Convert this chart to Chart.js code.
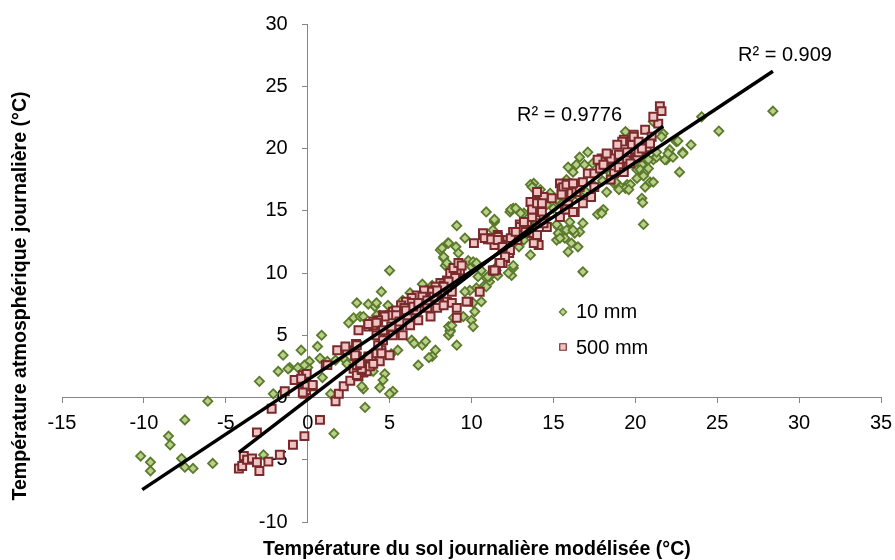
<!DOCTYPE html>
<html>
<head>
<meta charset="utf-8">
<script src="https://cdn.jsdelivr.net/npm/chart.js@4.4.0/dist/chart.umd.min.js"></script>
<style>
  body { margin: 0; background: #fff; }
  canvas { display: block; }
</style>
</head>
<body>
<canvas id="chart" width="895" height="560"></canvas>
<script>
// [x, y] pairs
const pts10mm = [
  [-10.2,-4.7],[-9.6,-5.2],[-9.6,-5.9],[-8.5,-3.1],[-8.4,-3.8],[-7.5,-1.8],[-7.7,-4.9],[-7.5,-5.6],[-7.0,-5.7],
  [-6.1,-0.3],[-5.8,-5.3],[-2.7,-4.6],[-2.95,1.3],[-1.8,2.1],[-2.1,0.3],[-1.1,2.4],[-0.6,2.4],[-1.5,3.4],
  [-0.4,3.8],[0.6,4.1],[0.85,5.0],[0.1,2.9],[-1.2,2.3],[0,2.4],[1.2,2.9],[1.7,3.0],[0.9,1.6],[1.4,0.3],
  [1.6,-2.9],[3.5,-0.8],[3.4,0.7],[4.4,0.8],[5.2,0.5],[4.7,1.9],[4.6,1.4],[2.3,3.0],[2.4,2.7],[5.1,3.5],
  [5.5,3.8],[4.0,2.1],[-0.2,2.6],[0.75,3.15],[3.3,0.9],[5.0,0.3],
  [3.0,7.6],[3.7,7.5],[4.1,7.3],[4.4,6.6],[2.8,6.4],[2.5,6.0],[3.2,6.5],[5.0,10.2],[4.5,8.5],[4.2,7.6],
  [4.9,7.4],[4.2,6.6],[3.4,6.5],[6.25,8.4],[7.0,9.1],[7.6,9.0],[5.8,7.8],[10.0,10.5],[10.6,10.2],[10.9,9.6],
  [10.8,9.0],[10.3,8.8],[9.9,8.6],[9.6,8.5],[10.1,7.6],[10.2,6.9],[10.0,6.2],[10.1,5.7],[8.7,5.4],[8.6,5.0],
  [9.1,4.2],[7.8,3.8],[7.6,3.3],[6.75,2.6],[7.0,4.2],[6.35,4.6],[5.4,5.4],[4.8,5.0],[12.45,9.8],[12.55,10.4],
  [11.5,10.2],[10.6,7.7],[10.4,9.7],[12.9,12.1],[13.2,12.65],[13.4,13.2],[11.1,9.3],[9.1,13.8],[9.6,12.8],
  [11.4,14.1],[8.55,12.4],[8.1,11.85],[9.05,12.1],[9.2,11.6],[8.3,11.2],[8.4,10.6],[9.8,11.0],[7.4,3.2],
  [7.2,4.5],[6.5,4.35],[8.7,5.3],[8.6,5.7],[8.8,5.8],[9.5,6.5],[8.9,6.4],[11.1,9.7],[11.6,10.6],[11.6,9.8],
  [10.1,10.9],
  [5.5,6.5],[6.0,6.8],[6.5,7.5],[7.0,7.8],[7.5,8.2],[8.0,8.6],[8.5,9.0],[9.0,9.3],[12.0,12.0],[12.5,12.8],
  [13.0,13.3],[13.5,13.8],[14.0,14.0],[14.5,14.5],[15.0,15.2],[15.5,15.5],[16.0,16.0],[16.5,16.2],[17.0,16.5],
  [17.5,17.0],[18.0,17.4],[18.5,18.0],[19.0,18.5],
  [16.6,19.3],[17.1,19.7],[15.9,18.5],[16.4,18.7],[16.9,18.7],[17.4,18.8],[17.85,19.1],[20.7,19.2],[21.1,19.1],
  [20.4,18.7],[20.1,18.3],[20.5,17.9],[20.9,17.3],[20.6,16.9],[21.1,17.3],[19.5,17.1],[19.1,16.9],[19.4,16.8],
  [18.7,17.2],[18.25,16.5],[20.4,16.0],[20.45,15.65],[20.5,13.9],[18.05,15.1],[17.7,14.7],[17.95,14.8],[16.8,14.0],
  [16.6,13.3],[16.3,13.2],[16.1,12.4],[16.5,12.1],[15.4,13.05],[15.2,12.65],[16.0,14.1],[16.8,10.1],[13.6,14.9],
  [13.2,14.8],[13.6,11.45],[12.55,15.2],[12.35,14.9],[10.9,14.9],[11.4,14.2],[11.3,13.45],[11.0,9.7],[10.9,8.9],
  [12.25,10.0],[12.55,10.6],[14.6,15.5],[13.8,17.2],[13.6,17.1],[14.1,16.5],[14.8,16.4],[15.2,15.9],[15.3,13.7],
  [15.8,13.45],[15.7,12.8],[15.3,13.2],[21.1,22.15],[21.7,21.2],[22.5,20.55],[22.9,19.7],[23.4,20.3],[21.3,19.3],
  [21.9,19.1],[22.7,18.1],[21.3,19.7],[20.8,19.1],[20.3,18.3],[20.1,17.6],[19.7,17.1],[19.0,16.7],[18.8,17.3],
  [28.4,23.0],[25.1,21.4],[24.05,22.55],[22.9,19.6],[22.6,20.6],[22.1,19.9],[22.3,19.3],[21.8,19.1],[22.0,19.6],
  [20.6,18.1],[20.5,17.8],[20.8,18.4],[19.6,16.7],[19.5,21.2],[19.4,21.35],[21.6,20.95],[8.2,12.0],[8.6,12.4],
  [8.3,11.3],[8.5,10.8],[10.3,10.8],[11.4,14.3],[12.4,15.1],[12.7,15.2],[13.0,14.8],[13.7,16.9],[14.2,16.7],
  [16.2,18.1],[15.8,17.5],[15.4,12.8],[16.2,13.45],[15.2,13.9],[15.9,11.7]
];

const pts500mm = [
  [-4.2,-5.7],[-4.0,-5.5],[-3.9,-4.7],[-3.7,-5.0],[-3.4,-4.9],[-3.1,-5.2],[-2.95,-5.9],[-2.4,-5.15],[-1.7,-4.6],
  [-3.1,-2.8],[-2.2,-0.9],[-0.9,-3.8],[-0.2,-3.1],[0.75,-1.8],[-1.4,0.5],[-0.2,0.3],[-0.2,0.7],[-0.1,0.6],
  [-0.8,1.4],[-0.3,1.8],[-0.1,1.8],[0.3,0.9],[1.1,2.6],[1.7,-0.3],[1.9,0.3],[2.2,0.9],[2.6,1.35],[2.8,2.3],
  [3.1,1.7],[3.4,2.0],[3.6,2.1],[3.0,1.8],[3.3,2.2],[3.1,2.75],[3.5,2.6],[3.8,2.75],[3.9,3.15],[4.2,3.55],
  [4.5,3.8],[2.9,3.3],[2.4,3.8],[1.8,3.8],[2.3,4.1],[1.2,2.6],[-0.06,1.9],[-0.4,1.5],[-0.06,0.9],[0.3,1.0],
  [-0.3,0.4],[4.5,3.55],[5.0,3.4],[4.4,2.9],[3.8,2.5],[3.3,2.3],[2.95,4.3],[3.0,3.3],[3.0,2.6],[3.7,3.3],
  [4.0,2.7],[4.3,4.2],[4.9,5.2],[5.6,5.8],[3.7,5.7],[4.0,5.8],[4.6,6.6],[5.2,6.9],[5.7,7.2],
  [10.15,12.4],[10.7,13.05],[11.0,12.7],[11.3,12.8],[11.6,13.05],[11.9,12.65],[12.55,13.25],[12.95,13.9],
  [13.3,14.0],[12.85,13.3],[11.7,12.4],[12.15,11.85],[12.3,11.6],[12.05,11.2],[11.5,10.25],[11.3,10.2],
  [11.9,10.8],[10.5,8.5],[9.8,7.7],[9.1,6.4],[9.3,10.2],[9.1,10.0],[8.8,9.85],[8.5,9.4],[8.1,9.2],[7.8,8.9],
  [7.5,8.6],[7.1,8.6],[6.65,8.2],[6.35,8.0],[6.0,7.7],[5.7,7.4],[5.4,7.0],[5.0,6.6],[4.7,6.5],[4.3,6.2],
  [4.0,6.1],[3.7,5.9],[3.1,5.4],[3.0,4.2],[2.9,3.4],[3.2,2.75],[8.7,10.0],[8.9,10.4],[9.2,10.8],[8.3,9.0],
  [7.6,8.5],[7.0,8.1],[6.35,7.6],[5.9,7.2],[5.4,6.6],[4.2,6.0],[4.2,5.0],[4.6,4.6],[5.2,5.0],[5.8,5.0],
  [7.5,6.5],[8.0,7.4],[8.5,7.7],[8.8,7.6],[9.7,7.7],[8.8,8.5],[7.9,7.8],[7.3,7.2],[6.65,7.0],[6.1,6.6],
  [5.6,6.1],[5.1,5.7],[4.6,5.4],[6.75,6.2],[6.25,5.8],[6.0,7.0],[6.45,7.3],[6.75,7.6],[7.3,7.8],[7.7,8.1],
  [8.1,8.5],[8.5,8.9],[9.0,9.6],[9.4,10.6],[8.6,9.3],[8.3,8.9],[7.9,8.6],[7.9,7.2],[8.3,7.4],[9.1,7.2],
  [11.7,10.8],
  [10.7,13.2],[11.6,12.9],[11.7,12.5],[11.4,12.25],[12.05,12.25],[12.55,13.3],[12.96,13.7],[13.4,14.1],
  [13.7,14.5],[13.8,15.1],[14.1,15.6],[14.3,14.9],[14.4,14.3],[14.6,13.7],[14.9,16.0],[15.4,17.2],[15.5,16.8],
  [15.9,17.2],[15.6,16.3],[16.1,16.4],[16.4,16.5],[15.9,15.5],[16.3,14.9],[16.6,16.9],[16.8,17.3],[17.1,18.0],
  [17.5,18.0],[17.85,18.4],[18.15,18.7],[17.95,19.2],[18.35,19.5],[18.75,19.1],[19.1,18.8],[19.5,19.2],
  [19.9,19.6],[20.1,19.3],[20.5,19.9],[18.7,18.0],[18.5,17.5],[17.5,16.9],[17.3,16.1],[16.8,15.6],[14.0,16.4],
  [14.4,16.1],[13.9,12.5],[14.1,12.25],[13.7,13.2],[13.3,13.3],[12.8,12.65],[12.35,11.85],[12.05,11.3],
  [11.75,10.8],[11.4,10.2],[21.4,22.0],[20.6,21.5],[21.0,20.95],[19.9,21.1],[19.3,20.7],[19.8,20.3],[20.2,19.7],
  [20.7,20.1],[20.9,20.4],[19.5,19.7],[19.0,19.5],[18.5,19.2],[18.25,19.6],[17.7,19.1],[18.05,18.7],[19.0,18.5],
  [19.3,18.1],[19.7,18.8],[21.5,23.4],[21.6,23.0],[21.1,22.55],[19.9,20.95],[20.2,20.55],[20.4,20.0],[19.2,20.55],
  [18.9,20.3],[10.8,12.8],[11.2,12.7],[11.6,12.65],[11.9,12.1],[12.4,12.8],[12.7,13.3],[13.2,14.1],[13.6,15.7],
  [13.7,15.1],[14.0,15.6],[14.3,15.6],[14.0,16.5],[15.6,16.9],[15.8,17.1],[16.2,17.2],[15.5,16.3],[15.7,15.1],
  [15.4,14.5],[15.8,15.1],[16.2,14.9],[14.4,14.0],[14.0,13.05],[13.8,12.4]
];

// trendline end points
const trend10mm = [[-10.1,-7.4],[28.4,26.2]];
const trend500mm = [[-4.2,-4.4],[21.7,21.8]];

const seriesNames = ['10 mm', '500 mm'];
const r2Labels = ['R² = 0.909', 'R² = 0.9776'];
const xTitle = 'Température du sol journalière modélisée (°C)';
const yTitle = 'Température atmosphérique journalière (°C)';

const toXY = arr => arr.map(p => ({x: p[0], y: p[1]}));

const FONT = '"Liberation Sans", Arial, sans-serif';
const green = {fill: '#B9CF8C', edge: '#5B7A2A'};
const red = {fill: '#EFC4C4', edge: '#7A2A2A'};

// tick labels: chart.js sets them flush on centred axes, so place them by hand off the zero lines
const tickLabelPlugin = {
  id: 'tickLabels',
  beforeDatasetsDraw(chart) {
    const ctx = chart.ctx;
    const xs = chart.scales.x, ys = chart.scales.y;
    const x0 = xs.getPixelForValue(0);
    const y0 = ys.getPixelForValue(0);
    ctx.save();
    ctx.fillStyle = '#000';
    ctx.font = '20px ' + FONT;
    ctx.textBaseline = 'middle';
    ctx.textAlign = 'right';
    ys.ticks.forEach(t => {
      ctx.fillText(String(t.value), x0 - 20, ys.getPixelForValue(t.value));
    });
    ctx.textAlign = 'center';
    xs.ticks.forEach(t => {
      ctx.fillText(String(t.value), xs.getPixelForValue(t.value), y0 + 26);
    });
    ctx.restore();
  }
};

const textPlugin = {
  id: 'textPlugin',
  afterDraw(chart) {
    const ctx = chart.ctx;
    const h = Chart.helpers;
    ctx.save();
    ctx.fillStyle = '#000';
    ctx.textBaseline = 'middle';

    // axis titles
    ctx.font = 'bold 19.6px ' + FONT;
    ctx.textAlign = 'center';
    ctx.fillText(xTitle, 477, 550);
    ctx.save();
    ctx.translate(21, 296);
    ctx.rotate(-Math.PI / 2);
    ctx.fillText(yTitle, 0, 0);
    ctx.restore();

    // R² labels
    ctx.font = '20px ' + FONT;
    ctx.textAlign = 'left';
    ctx.fillText(r2Labels[0], 738, 55);
    ctx.fillText(r2Labels[1], 517, 115);

    // legend
    ctx.fillText(seriesNames[0], 576, 312);
    ctx.fillText(seriesNames[1], 576, 348);
    ctx.lineWidth = 1.2;
    ctx.fillStyle = green.fill; ctx.strokeStyle = green.edge;
    h.drawPoint(ctx, {pointStyle: 'rectRot', radius: 3.6, rotation: 0, borderWidth: 1.2}, 563, 312);
    ctx.fillStyle = red.fill; ctx.strokeStyle = red.edge;
    h.drawPoint(ctx, {pointStyle: 'rect', radius: 4.6, rotation: 0, borderWidth: 1.2}, 563, 347);
    ctx.restore();
  }
};

new Chart(document.getElementById('chart'), {
  type: 'scatter',
  data: {
    datasets: [
      {
        label: 'trend 10 mm', type: 'line', data: toXY(trend10mm),
        borderColor: '#000', borderWidth: 3.5, pointRadius: 0, fill: false, order: 0
      },
      {
        label: 'trend 500 mm', type: 'line', data: toXY(trend500mm),
        borderColor: '#000', borderWidth: 3.5, pointRadius: 0, fill: false, order: 0
      },
      {
        label: seriesNames[1], data: toXY(pts500mm),
        pointStyle: 'rect', pointRadius: 5.6, borderWidth: 2,
        backgroundColor: red.fill, borderColor: red.edge, order: 1
      },
      {
        label: seriesNames[0], data: toXY(pts10mm),
        pointStyle: 'rectRot', pointRadius: 4.6, borderWidth: 1.8,
        backgroundColor: green.fill, borderColor: green.edge, order: 2
      }
    ]
  },
  options: {
    responsive: false,
    animation: false,
    layout: { padding: {left: 62, right: 14, top: 24, bottom: 38} },
    plugins: { legend: {display: false}, tooltip: {enabled: false} },
    scales: {
      x: {
        type: 'linear', min: -15, max: 35,
        position: {y: 0},
        ticks: { stepSize: 5, display: false },
        grid: { drawOnChartArea: false, drawTicks: true, tickLength: 5, color: '#868686' },
        border: { display: true, color: '#868686', width: 1 }
      },
      y: {
        type: 'linear', min: -10, max: 30,
        position: {x: 0},
        ticks: { stepSize: 5, display: false },
        grid: { drawOnChartArea: false, drawTicks: true, tickLength: 5, color: '#868686' },
        border: { display: true, color: '#868686', width: 1 }
      }
    }
  },
  plugins: [tickLabelPlugin, textPlugin]
});
</script>
</body>
</html>
